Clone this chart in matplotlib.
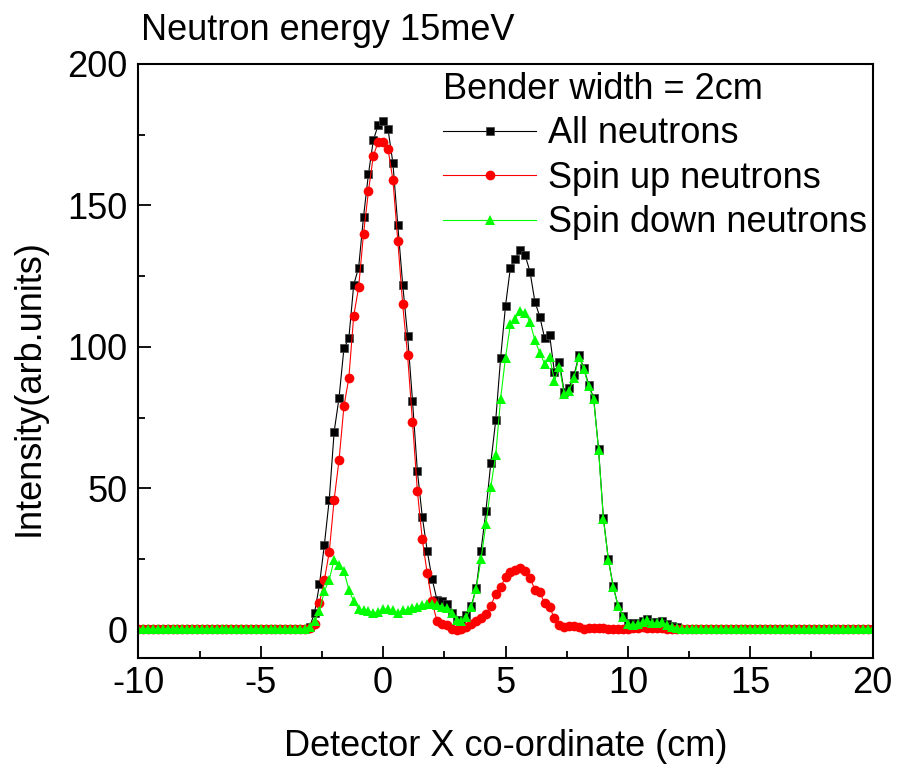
import numpy as np
import matplotlib
matplotlib.use('Agg')
import matplotlib.pyplot as plt
from matplotlib.ticker import MultipleLocator

plt.rcParams['font.family'] = ['Liberation Sans', 'DejaVu Sans']
plt.rcParams['axes.unicode_minus'] = False

# detector positions, 0.2 cm steps from -10 to 20
x_cm = np.linspace(-10, 20, 151)

# flat background on both sides of the active region (-3.4 .. 12.0 cm)
left_all = [0.3] * 33
right_all = [0.3] * 40
left_up = [0.2] * 33
right_up = [0.2] * 40
left_down = [0.3] * 33
right_down = [0.3] * 40

all_active = [
    0.3, 0.3, 1, 6, 16, 30, 46, 70, 82, 99.5,
    103, 122, 128, 146, 161, 173, 178.5, 180, 177, 165,
    143, 122, 104, 81, 56, 40, 28, 18, 10.6, 10.3,
    9.2, 6, 3.3, 3.3, 5.3, 8.3, 14.7, 28, 42, 59,
    74, 96, 114.5, 128, 131, 134.3, 132.4, 126.6, 116, 110.7,
    103, 104.3, 91, 94.6, 84, 85.5, 90, 97, 92.5, 86.5,
    82, 64, 39.5, 25, 15.3, 8.5, 4.8, 2.3, 2.2, 2.5,
    3.2, 3.8, 2.8, 2.8, 3.2, 2, 1.2, 0.8,
]
up_active = [
    0.2, 0.2, 0.5, 2, 9.5, 17.5, 27.5, 46, 60, 79,
    89, 111, 121, 140, 155, 167.5, 172.5, 172.5, 170, 159,
    137.5, 115, 97, 73.5, 49, 32, 20, 10, 3, 2,
    1.5, 0.3, 0, 0.3, 1, 2, 3, 4, 5.5, 8.5,
    12.6, 15.1, 18.5, 20.3, 21.2, 21.8, 20.7, 18.3, 14.2, 13.2,
    9.4, 7.9, 4.1, 1.8, 0.8, 1.2, 1.4, 1, 0.4, 0.6,
    0.6, 0.5, 0.5, 0.4, 0.4, 0.4, 0.4, 0.4, 0.5, 0.6,
    0.8, 0.6, 0.5, 0.5, 0.6, 0.3, 0.2, 0.2,
]
down_active = [
    0.3, 0.3, 1, 3, 6.5, 13.6, 17.7, 24.8, 23, 20.7,
    14.2, 10, 7.3, 7, 6.7, 6, 6.3, 7.3, 7.3, 6.8,
    5.8, 7, 7, 7.6, 8.2, 8.8, 9.2, 9.2, 8.8, 8.2,
    7.6, 5.8, 3.5, 3, 4.5, 7.9, 14.4, 25, 37.2, 50.4,
    61.7, 81.7, 96.2, 108, 110, 112.7, 112, 108.8, 102.3, 97.9,
    94, 96.5, 87.9, 93, 83.2, 84.5, 89, 96.5, 92, 86,
    81.5, 63.7, 39, 24.8, 15, 8.3, 4.5, 2, 1.8, 2,
    2.6, 3.3, 2.4, 2.3, 2.7, 1.5, 1, 0.6,
]

all_neutrons = left_all + all_active + right_all
spin_up = left_up + up_active + right_up
spin_down = left_down + down_active + right_down

fig = plt.figure(figsize=(8.97, 7.67), dpi=100)
ax = fig.add_axes([0.1542, 0.1421, 0.8187, 0.7745])

ax.plot(x_cm, all_neutrons, color='black', linewidth=0.8, marker='s',
        markersize=5.4, markeredgewidth=0.5, markeredgecolor='#444444',
        label='All neutrons')
ax.plot(x_cm, spin_up, color='red', linewidth=0.8, marker='o',
        markersize=7, markeredgewidth=0, label='Spin up neutrons')
ax.plot(x_cm, spin_down, color='#00ff00', linewidth=0.8, marker='^',
        markersize=7, markeredgewidth=0, label='Spin down neutrons')

ax.set_xlim(-10, 20)
ax.set_ylim(-10, 200)
ax.xaxis.set_major_locator(MultipleLocator(5))
ax.xaxis.set_minor_locator(MultipleLocator(2.5))
ax.set_yticks([0, 50, 100, 150, 200])
ax.yaxis.set_minor_locator(MultipleLocator(25))
ax.tick_params(which='both', direction='in', top=False, right=False, width=1.3)
ax.tick_params(which='major', length=9, labelsize=26)
ax.tick_params(which='minor', length=5)
ax.tick_params(axis='x', pad=6)
ax.tick_params(axis='y', pad=8)
for sp in ax.spines.values():
    sp.set_linewidth(1.5)

ax.set_xlabel('Detector X co-ordinate (cm)', fontsize=26, labelpad=20)
ax.set_ylabel('Intensity(arb.units)', fontsize=26)
ax.yaxis.set_label_coords(-0.125, 0.455)

fig.text(141 / 897, 1 - 40 / 767, 'Neutron energy 15meV', fontsize=26,
         ha='left', va='baseline')

leg = ax.legend(loc='upper left', bbox_to_anchor=(443 / 897, 1 - 72 / 767),
                bbox_transform=fig.transFigure, frameon=False, fontsize=26,
                title='Bender width = 2cm', title_fontsize=26,
                alignment='left', numpoints=1, handlelength=2.58,
                handletextpad=0.33, labelspacing=0.26, borderpad=0,
                borderaxespad=0)

fig.savefig('out.png', dpi=100)
